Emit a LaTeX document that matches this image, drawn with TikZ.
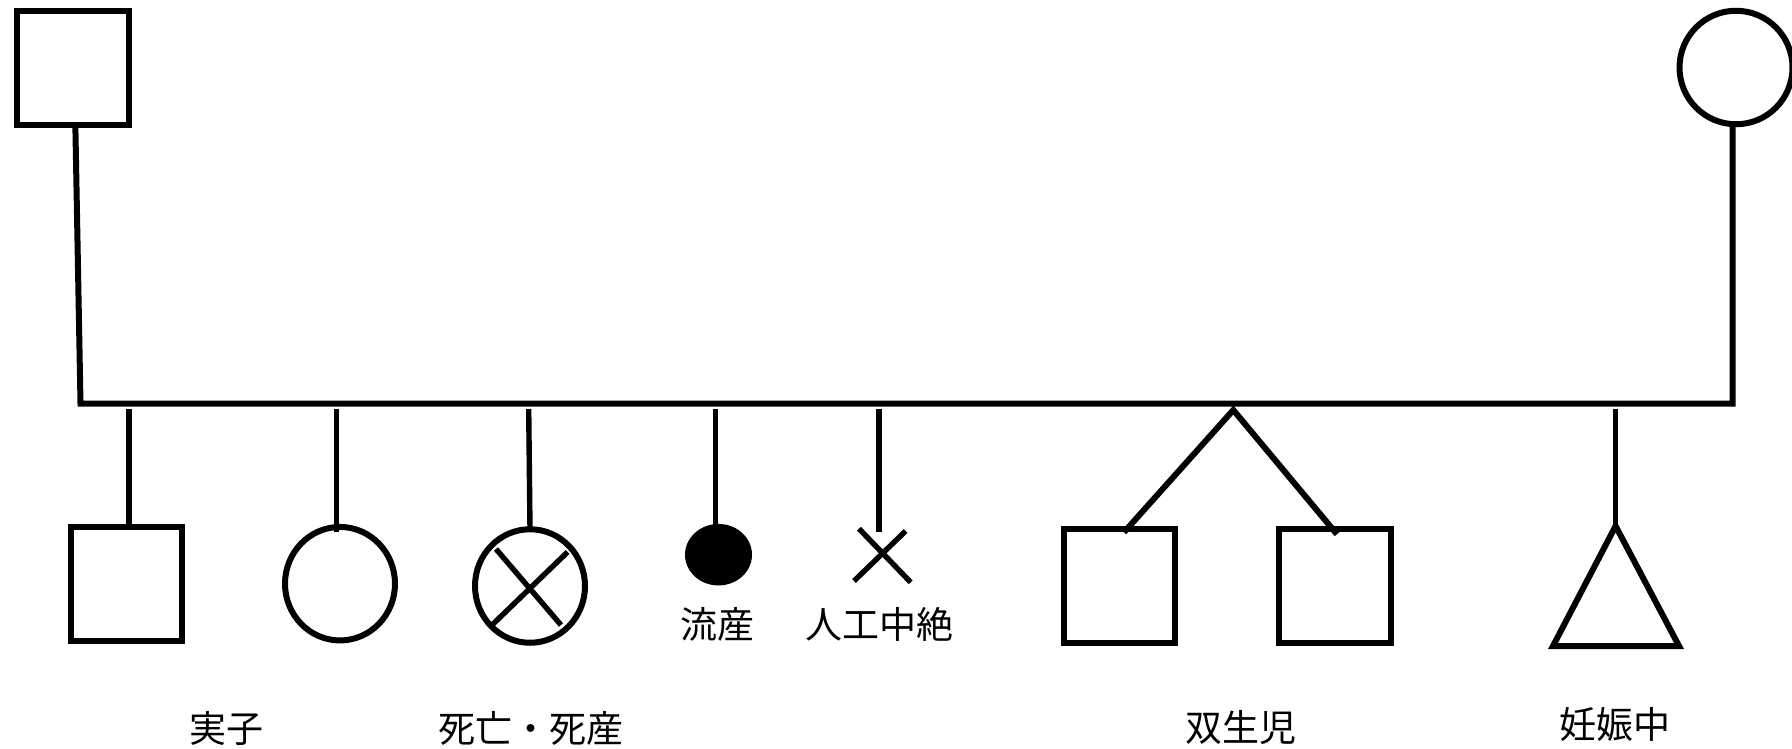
\documentclass[tikz,border=0pt]{standalone}
\usepackage{fontspec}
\newfontfamily\cjk{Noto Sans CJK JP}
\usetikzlibrary{shapes.geometric}
\tikzset{
  box/.style={draw=black,line width=6pt,rectangle,inner sep=0pt,outer sep=0pt,minimum width=#1,minimum height=114pt},
  box/.default=111.5pt,
  oval/.style={draw=black,line width=6pt,ellipse,inner sep=0pt,outer sep=0pt,minimum width=110pt,minimum height=113.5pt},
  dot/.style={fill=black,ellipse,inner sep=0pt,outer sep=0pt,minimum width=67pt,minimum height=61.5pt},
  label/.style={font=\cjk\fontsize{37}{37}\selectfont,inner sep=0pt,outer sep=0pt,text=black},
  link/.style={draw=black,line width=5.4pt,line cap=butt},
  bus/.style={draw=black,line width=6pt,line join=miter},
  cross/.style={draw=black,line width=5.4pt},
}
\begin{document}
\begin{tikzpicture}[x=1pt,y=-1pt]
\useasboundingbox (0,0) rectangle (1792,748);
\clip (0,0) rectangle (1792,748);
% parents
\node[box] (father) at (72.75,68) {};
\node[oval,minimum width=113pt] (mother) at (1736,67.5) {};
\coordinate (busL) at (80.5,403.5);
\coordinate (busR) at (1732.5,403.5);
\draw[bus] ([xshift=2.6pt]father.south) -- (busL) -- (busR) -- ([xshift=-3.3pt]mother.south);
% free line heads below the bus
\coordinate (s1) at (128.8,409);
\coordinate (s2) at (336.7,409);
\coordinate (s3) at (528.7,409);
\coordinate (s4) at (715.6,409);
\coordinate (s5) at (878.8,409);
\coordinate (apex) at (1233.3,410);
\coordinate (s6) at (1615.6,409);
% children
\node[box] (kid1) at (126.25,583.75) {};
\node[oval] (kid2) at (340,583.7) {};
\node[oval] (kid3) at (530,586) {};
\node[dot] (kid4) at (718.5,554.7) {};
\coordinate (x5) at (878.8,531.7);
\node[box=111pt] (twinL) at (1119,586.25) {};
\node[box=111.5pt] (twinR) at (1334.75,586.25) {};
% triangle
\coordinate (triT) at (1615.6,526);
\coordinate (triL) at (1553,646);
\coordinate (triR) at (1679,646);
\draw[bus] (triT) -- (triL) -- (triR) -- cycle;
% crosses
\draw[cross] ([xshift=-34pt,yshift=37pt]kid3.center) -- ([xshift=31pt,yshift=-39pt]kid3.center);
\draw[cross] ([xshift=37.6pt,yshift=34pt]kid3.center) -- ([xshift=-38pt,yshift=-39pt]kid3.center);
\coordinate (xa1) at (859,528.7);
\coordinate (xa2) at (910.7,582.3);
\coordinate (xb1) at (905.6,531);
\coordinate (xb2) at (854,581);
\draw[cross] (xa1) -- (xa2);
\draw[cross] (xb1) -- (xb2);
% connectors
\draw[link] (s1) -- ([yshift=-2pt]kid1.north -| s1);
\draw[link] (s2) -- ([yshift=-5pt]kid2.north -| s2);
\draw[link] (s3) -- (kid3.north);
\draw[link] (s4) -- ([yshift=-1pt]kid4.north -| s4);
\draw[link] (s5) -- (x5);
\draw[bus] ([xshift=5pt,yshift=-3pt]twinL.north) -- (apex) -- ([xshift=2.2pt,yshift=-5pt]twinR.north);
\draw[link] (s6) -- (triT);
% labels
\node[label] (l1) at (226.5,728) {実子};
\node[label] (l2) at (530.5,728.5) {死亡・死産};
\node[label] (l3) at (717,624) {流産};
\node[label] (l4) at (879,624) {人工中絶};
\node[label] (l5) at (1241,728) {双生児};
\node[label] (l6) at (1615,724) {妊娠中};
\end{tikzpicture}
\end{document}
